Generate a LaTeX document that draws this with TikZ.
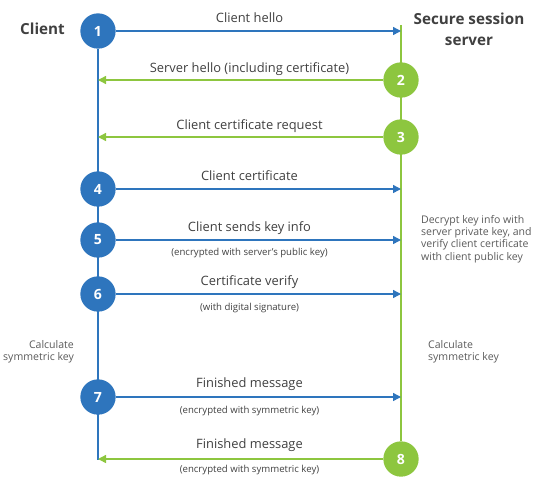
\documentclass[tikz,border=0pt]{standalone}
\usepackage{fontspec}
\setmainfont{Open Sans}
\usetikzlibrary{arrows.meta, positioning, backgrounds}
\definecolor{clientblue}{RGB}{46, 117, 189}
\definecolor{servergreen}{RGB}{141, 198, 63}
\definecolor{darktext}{RGB}{64, 64, 64}
\definecolor{notetext}{RGB}{90, 90, 90}
\tikzset{
  >=Triangle,
  step_client/.style={circle, fill=clientblue, text=white, inner sep=0pt, minimum size=1.06cm, font=\bfseries\fontsize{12}{14}\selectfont},
  step_server/.style={circle, fill=servergreen, text=white, inner sep=0pt, minimum size=1.06cm, font=\bfseries\fontsize{12}{14}\selectfont},
  msg_blue/.style={-{Triangle[length=2.4mm, width=2.4mm]}, line width=1.2pt, clientblue},
  msg_green/.style={-{Triangle[length=2.4mm, width=2.4mm]}, line width=1.2pt, servergreen},
  life_blue/.style={line width=1.7pt, clientblue},
  life_green/.style={line width=1.7pt, servergreen},
  msg_label/.style={font=\fontsize{11}{13}\selectfont, text=darktext},
  msg_note/.style={font=\fontsize{8.2}{10}\selectfont, text=darktext},
  side_note/.style={font=\fontsize{9}{10.5}\selectfont, text=notetext},
  party/.style={font=\bfseries\fontsize{13}{18}\selectfont, text=darktext, align=center}
}
\begin{document}
\begin{tikzpicture}[x=0.03cm, y=-0.03cm]
    \useasboundingbox (0,0) rectangle (537,497);
    % parties
    \node[party] (client) at (42.5,29) {Client};
    \node[party] (server) at (469,29) {Secure session\\server};
    \coordinate (srvtop) at (401,25);
    \coordinate (cltbot) at (98,460);
    % steps
    \node[step_client] (c1) at (98,31) {1};
    \node[step_server] (c2) at (401,80) {2};
    \node[step_server] (c3) at (401,137) {3};
    \node[step_client] (c4) at (98,189) {4};
    \node[step_client] (c5) at (98,240) {5};
    \node[step_client] (c6) at (98,294) {6};
    \node[step_client] (c7) at (98,397) {7};
    \node[step_server] (c8) at (401,459) {8};
    \begin{scope}[on background layer]
        \draw[life_blue] (c1) -- (cltbot);
        \draw[life_green] (srvtop) -- (c8);
    \end{scope}
    % messages
    \draw[msg_blue] (c1) -- (c1 -| srvtop);
    \draw[msg_green] (c2) -- (c2 -| cltbot);
    \draw[msg_green] (c3) -- (c3 -| cltbot);
    \draw[msg_blue] (c4) -- (c4 -| srvtop);
    \draw[msg_blue] (c5) -- (c5 -| srvtop);
    \draw[msg_blue] (c6) -- (c6 -| srvtop);
    \draw[msg_blue] (c7) -- (c7 -| srvtop);
    \draw[msg_green] (c8) -- (c8 -| cltbot);
    % labels
    \node[msg_label] (lbl1) at (249.5,17.5) {Client hello};
    \node[msg_label] (lbl2) at (249.5,69) {Server hello (including certificate)};
    \node[msg_label] (lbl3) at (249.5,126) {Client certificate request};
    \node[msg_label] (lbl4) at (249.5,176) {Client certificate};
    \node[msg_label] (lbl5) at (249.5,228.5) {Client sends key info};
    \node[msg_note] (note5) at (249.5,252.5) {(encrypted with server’s public key)};
    \node[msg_label] (lbl6) at (249.5,282.5) {Certificate verify};
    \node[msg_note] (note6) at (249.5,307.5) {(with digital signature)};
    \node[msg_label] (lbl7) at (249.5,384.5) {Finished message};
    \node[msg_note] (note7) at (249.5,410.5) {(encrypted with symmetric key)};
    \node[msg_label] (lbl8) at (249.5,445) {Finished message};
    \node[msg_note] (note8) at (249.5,470) {(encrypted with symmetric key)};
    % side notes
    \node[side_note, align=left, anchor=west] (decrypt) at (417,239) {Decrypt key info with\\server private key, and\\verify client certificate\\with client public key};
    \node[side_note, align=right, anchor=east] (calcl) at (78,351.5) {Calculate\\symmetric key};
    \node[side_note, align=left, anchor=west] (calcr) at (424,351.5) {Calculate\\symmetric key};
\end{tikzpicture}
\end{document}
